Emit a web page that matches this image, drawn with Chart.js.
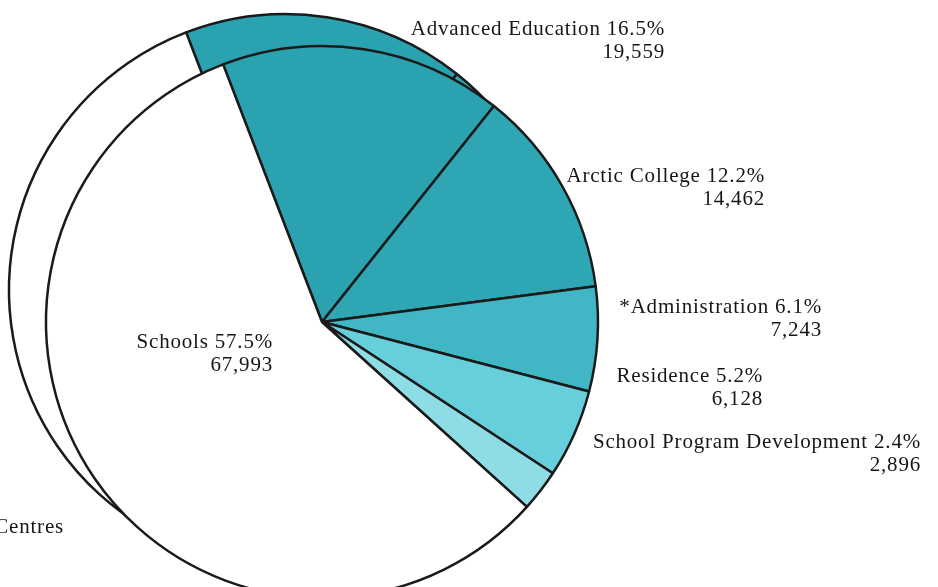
<!DOCTYPE html>
<html>
<head>
<meta charset="utf-8">
<script src="https://cdn.jsdelivr.net/npm/chart.js@4"></script>
<style>
  html, body { margin: 0; padding: 0; background: #fff; overflow: hidden; width: 938px; height: 587px; }
  #back { position: absolute; left: -37px; top: -32px; z-index: 0; }
  #front { position: absolute; left: 0; top: 0; z-index: 1; }
</style>
</head>
<body>
<canvas id="back" width="644" height="644"></canvas>
<canvas id="front" width="938" height="644"></canvas>
<script>
  const categories = [
    'Advanced Education',
    'Arctic College',
    '*Administration',
    'Residence',
    'School Program Development',
    'Schools'
  ];
  const amounts = [19559, 14462, 7243, 6128, 2896, 67993];
  const percents = ['16.5%', '12.2%', '6.1%', '5.2%', '2.4%', '57.5%'];
  const amountLabels = ['19,559', '14,462', '7,243', '6,128', '2,896', '67,993'];

  const colors = ['#2aa2af', '#2ea6b4', '#41b6c4', '#67cfdb', '#8edde6', '#ffffff'];

  // where each label's right edge and first baseline sit
  const labelSpots = [
    [665, 35], [765, 182], [822, 313], [763, 382], [921, 448], [273, 348]
  ];

  const labelPlugin = {
    id: 'sliceLabels',
    afterDraw(chart) {
      const ctx = chart.ctx;
      ctx.save();
      ctx.font = '21px "Liberation Serif", "Times New Roman", serif';
      ctx.letterSpacing = '0.8px';
      ctx.fillStyle = '#161616';
      ctx.textAlign = 'right';
      ctx.textBaseline = 'alphabetic';
      categories.forEach((c, i) => {
        const [x, y] = labelSpots[i];
        ctx.fillText(c + ' ' + percents[i], x, y);
        ctx.fillText(amountLabels[i], x, y + 23);
      });
      ctx.fillText('Centres', 64, 533);
      ctx.restore();
    }
  };

  function pieConfig(withLabels, right) {
    return {
      type: 'pie',
      data: {
        labels: categories,
        datasets: [{
          data: amounts,
          backgroundColor: colors,
          borderColor: '#1a1a1a',
          borderWidth: 2.5,
          radius: 276
        }]
      },
      options: {
        responsive: false,
        animation: false,
        events: [],
        rotation: -21,
        layout: { padding: { left: 0, top: 0, bottom: 0, right: right } },
        plugins: { legend: { display: false }, tooltip: { enabled: false } }
      },
      plugins: withLabels ? [labelPlugin] : []
    };
  }

  new Chart(document.getElementById('back'), pieConfig(false, 0));
  new Chart(document.getElementById('front'), pieConfig(true, 294));
</script>
</body>
</html>
